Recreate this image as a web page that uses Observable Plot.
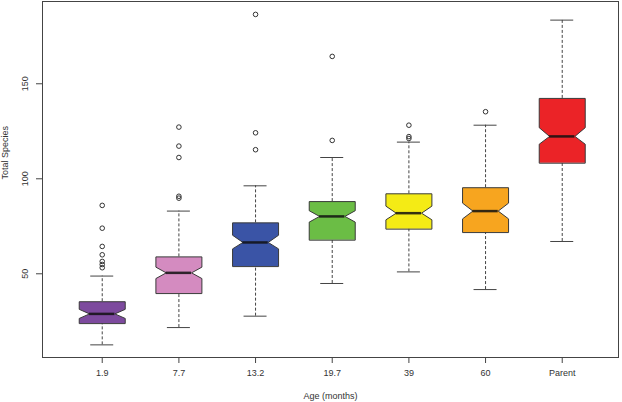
<!DOCTYPE html>
<html>
<head>
<meta charset="utf-8">
<script src="https://cdn.jsdelivr.net/npm/d3@7"></script>
<script src="https://cdn.jsdelivr.net/npm/@observablehq/plot@0.6"></script>
<style>
  html, body { margin: 0; padding: 0; background: #fff; }
</style>
</head>
<body>
<div id="chart"></div>
<script>
// ---- Data ----
const groups = ["1.9", "7.7", "13.2", "19.7", "39", "60", "Parent"];
const lowerWhisker = [12.6, 21.7, 27.7, 44.9, 51.0, 41.7, 67.0];
const q1 = [24.0, 39.8, 54.0, 67.9, 73.7, 71.9, 108.4];
const notchLo = [26.5, 47.5, 63.1, 77.2, 78.4, 78.9, 118.2];
const medians = [28.9, 50.5, 66.5, 80.2, 81.9, 83.0, 122.3];
const notchHi = [31.3, 53.5, 70.3, 83.2, 85.6, 87.2, 126.9];
const q3 = [35.3, 58.9, 76.8, 88.0, 92.1, 95.3, 142.3];
const upperWhisker = [48.8, 83.0, 96.3, 111.2, 119.3, 128.2, 183.5];
const outliers = [
  [86, 74, 64.4, 60, 56.5, 54.9, 53.2],
  [127.2, 117.2, 111.2, 90.8, 89.8],
  [186.5, 124.2, 115.3],
  [164.4, 120.2],
  [128.2, 122.2, 121.2],
  [135.3],
  []
];
const colors = ["#7d4a9e", "#d48bc0", "#3a54a6", "#6bbd45", "#f4eb15", "#f7a51f", "#eb2327"];
const yTicks = [50, 100, 150];

// ---- Derived tables ----
const boxW = 0.6, capW = 0.3, nf = 0.55;
const stats = groups.map((g, i) => ({
  group: g, pos: i + 1, lo: lowerWhisker[i], q1: q1[i], nlo: notchLo[i],
  med: medians[i], nhi: notchHi[i], q3: q3[i], hi: upperWhisker[i], color: colors[i]
}));
const boxPts = stats.flatMap(s => {
  const L = s.pos - boxW / 2, R = s.pos + boxW / 2;
  const l = s.pos - boxW * nf / 2, r = s.pos + boxW * nf / 2;
  return [
    [L, s.q1], [L, s.nlo], [l, s.med], [L, s.nhi], [L, s.q3],
    [R, s.q3], [R, s.nhi], [r, s.med], [R, s.nlo], [R, s.q1]
  ].map(([x, y]) => ({group: s.group, color: s.color, x, y}));
});
const outlierPts = outliers.flatMap((arr, i) => arr.map(v => ({pos: i + 1, value: v})));

const chart = Plot.plot({
  width: 622,
  height: 402,
  marginLeft: 42,
  marginRight: 4,
  marginTop: 1,
  marginBottom: 45,
  x: {type: "linear", domain: [0.221, 7.734], axis: null},
  y: {domain: [5.95, 193.3], axis: null},
  color: {type: "identity"},
  style: {fontFamily: "'Liberation Sans', Arial, sans-serif", fontSize: "9px", color: "#333", background: "#fff"},
  marks: [
    // whiskers
    Plot.ruleX(stats, {x: "pos", y1: "q3", y2: "hi", stroke: "#444", strokeDasharray: "3,2"}),
    Plot.ruleX(stats, {x: "pos", y1: "lo", y2: "q1", stroke: "#444", strokeDasharray: "3,2"}),
    // caps
    Plot.ruleY(stats, {y: "hi", x1: d => d.pos - capW / 2, x2: d => d.pos + capW / 2, stroke: "#444"}),
    Plot.ruleY(stats, {y: "lo", x1: d => d.pos - capW / 2, x2: d => d.pos + capW / 2, stroke: "#444"}),
    // notched boxes
    Plot.line(boxPts, {x: "x", y: "y", z: "group", fill: "color", stroke: "#3a3a3a", strokeWidth: 1, curve: "linear-closed"}),
    // medians
    Plot.ruleY(stats, {y: "med", x1: d => d.pos - boxW * nf / 2, x2: d => d.pos + boxW * nf / 2, stroke: "#111", strokeOpacity: 0.85, strokeWidth: 2.5}),
    // outliers
    Plot.dot(outlierPts, {x: "pos", y: "value", r: 2.3, stroke: "#333", fill: "none", strokeWidth: 1}),
    Plot.frame({stroke: "#444"}),
    Plot.axisY({ticks: yTicks, tickSize: 6, tickRotate: -90, tickPadding: 9, label: null, stroke: "#444", fontSize: 9}),
    Plot.axisX({ticks: stats.map(s => s.pos), tickFormat: d => groups[d - 1], tickSize: 6, tickPadding: 6, label: null, stroke: "#444", fontSize: 9}),
    Plot.text(["Age (months)"], {text: d => d, frameAnchor: "bottom", dy: 39, lineAnchor: "middle", fontSize: 9}),
    Plot.text(["Total Species"], {text: d => d, frameAnchor: "left", dx: -37, rotate: -90, lineAnchor: "middle", fontSize: 9})
  ]
});
document.getElementById("chart").appendChild(chart);
</script>
</body>
</html>
